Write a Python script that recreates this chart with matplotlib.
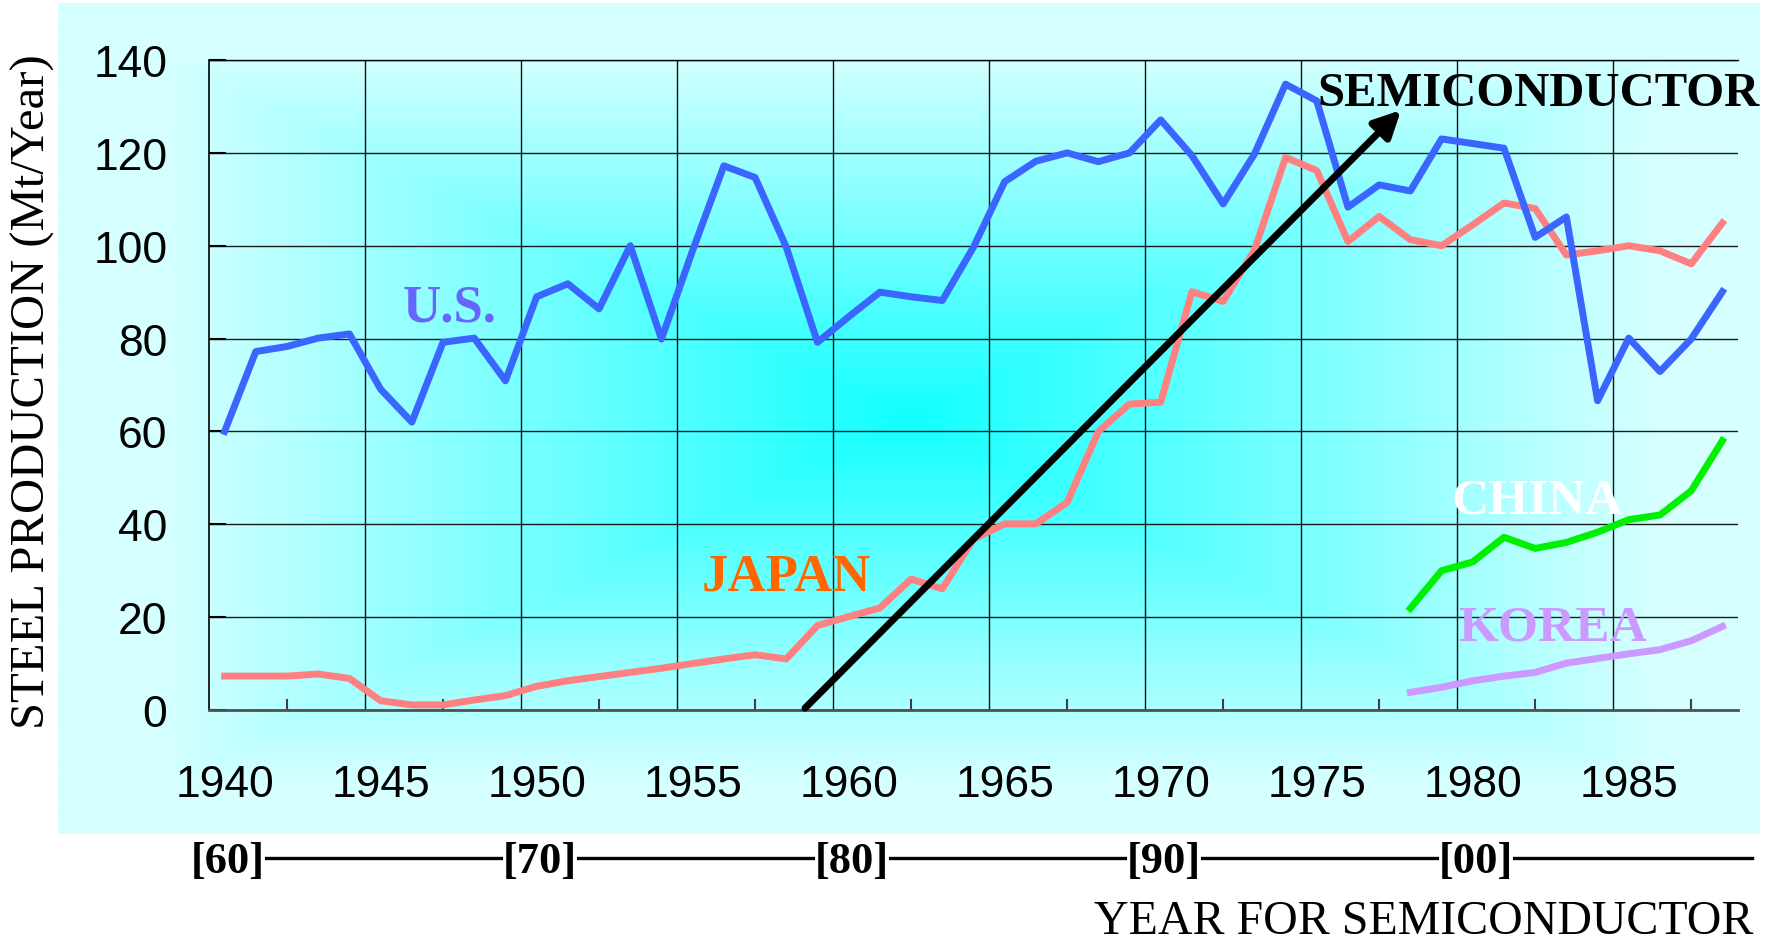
import numpy as np
import matplotlib
matplotlib.use("Agg")
import matplotlib.pyplot as plt
import matplotlib.transforms as mtransforms
from matplotlib.lines import Line2D

# steel production, Mt per year
YEARS = np.arange(1940, 1989)
US = [60, 77.2, 78.3, 80.1, 81.0, 69.1, 62.0, 79.2, 80.1, 70.9,
      89.0, 91.8, 86.4, 100.0, 79.9, 99.0, 117.2, 114.7, 99.7, 79.2,
      84.7, 90.0, 89.0, 88.2, 99.7, 113.8, 118.2, 120.0, 118.1, 120.0,
      127.1, 119.4, 109.0, 119.7, 134.8, 131.2, 108.3, 113.1, 111.8, 123.0,
      122.0, 121.0, 101.8, 106.2, 66.6, 80.1, 72.9, 79.9, 90.1]
JAPAN = [7.3, 7.3, 7.3, 7.75, 6.8, 2.0, 1.1, 1.1, 2.15, 3.1,
         5.1, 6.3, 7.2, 8.1, 9.0, 10.0, 11.0, 11.9, 11.0, 18.2,
         20.1, 22.0, 28.2, 26.1, 36.8, 40.1, 40.1, 44.7, 60.0, 65.9,
         66.3, 90.1, 88.0, 99.0, 119.0, 116.2, 100.9, 106.3, 101.3, 100.0,
         104.5, 109.2, 108.0, 98.0, 98.9, 100.0, 98.9, 96.1, 104.9]
ASIA_YEARS = np.arange(1978, 1989)
CHINA = [21.9, 30.0, 31.9, 37.2, 34.8, 36.1, 38.3, 41.0, 42.0, 47.2, 58.0]
KOREA = [3.8, 4.9, 6.3, 7.3, 8.1, 10.1, 11.1, 12.1, 13.0, 14.9, 18.0]

YEAR_LABELS = [1940, 1945, 1950, 1955, 1960, 1965, 1970, 1975, 1980, 1985]
Y_TICKS = [0, 20, 40, 60, 80, 100, 120, 140]
# semiconductor decades written under the steel years 1940, 1950, ...
SEMI_DECADES = ["60", "70", "80", "90", "00"]
SEMI_STEEL_YEARS = [1940, 1950, 1960, 1970, 1980]

# semiconductor trend arrow (axis units)
ARROW_START = (1959.1, 0.4)
ARROW_END = (1978.2, 129.2)

W, H = 1772, 945
fig = plt.figure(figsize=(W / 100, H / 100), dpi=100)
fig.patch.set_facecolor("white")

# cyan panel with a rectangular gradient, bright in the middle
bg = fig.add_axes([58 / W, 1 - 835 / H, (1760 - 58) / W, (835 - 4) / H])
yy, xx = np.mgrid[-1:1:420j, -1:1:850j]
t = np.maximum(np.abs(xx), np.abs(yy))
red = (18 + (214 - 18) * np.clip(t / 0.88, 0, 1)) / 255
bg.imshow(np.dstack([red, np.ones_like(red), np.ones_like(red)]),
          aspect="auto", extent=[0, 1, 0, 1], interpolation="bilinear")
bg.axis("off")

ax = fig.add_axes([209 / W, 1 - 711 / H, (1738 - 209) / W, (711 - 61) / H])
ax.set_facecolor("none")
ax.set_xlim(1940, 1989)
ax.set_ylim(0, 140)

# grid: horizontal at the y ticks, vertical between every 5 years
ax.set_yticks(Y_TICKS)
ax.yaxis.grid(True, color="#1a1a1a", lw=1.0)
for gx in YEAR_LABELS[1:]:
    ax.axvline(gx, color="#111111", lw=1.0, zorder=1)

ax.spines["right"].set_visible(False)
ax.spines["top"].set_linewidth(1.0)
ax.spines["left"].set_linewidth(1.2)
ax.spines["bottom"].set_color("#505050")
ax.spines["bottom"].set_linewidth(2.0)

ax.set_xticks([y + 0.5 for y in YEAR_LABELS])
ax.set_xticklabels([str(y) for y in YEAR_LABELS])
ax.set_xticks([y + 2.5 for y in YEAR_LABELS], minor=True)
ax.tick_params(axis="x", which="major", length=0, pad=39, labelsize=32)
ax.tick_params(axis="x", which="minor", direction="in", length=8, width=1.5, color="#404040")
ax.tick_params(axis="y", direction="in", length=12, width=1.5, pad=30, labelsize=32)
for lab in ax.get_xticklabels() + ax.get_yticklabels():
    lab.set_fontfamily("Liberation Sans")

lw = 5
ax.plot(YEARS + 0.5, JAPAN, color="#FF8080", lw=lw, zorder=3)
ax.plot(YEARS + 0.5, US, color="#3A66FF", lw=lw, zorder=4)
ax.plot(ASIA_YEARS + 0.5, CHINA, color="#00F000", lw=lw, zorder=3)
ax.plot(ASIA_YEARS + 0.5, KOREA, color="#CC99FF", lw=lw, zorder=3)

ax.annotate("", xy=ARROW_END, xytext=ARROW_START, annotation_clip=False,
            arrowprops=dict(arrowstyle="-|>", color="black", lw=5,
                            mutation_scale=40, shrinkA=0, shrinkB=0),
            zorder=6)

serif = "Liberation Serif"
ax.text(1947.7, 84.0, "U.S.", color="#6666FF", size=38, weight="bold",
        family=serif, ha="center", va="baseline", zorder=5)
ax.text(1958.5, 25.9, "JAPAN", color="#FF6600", size=38, weight="bold",
        family=serif, ha="center", va="baseline", zorder=5)
ax.text(1982.6, 130.3, "SEMICONDUCTOR", color="black", size=35, weight="bold",
        family=serif, ha="center", va="baseline", zorder=7, clip_on=False)
ax.text(1982.55, 42.6, "CHINA", color="white", size=37, weight="bold",
        family=serif, ha="center", va="baseline", zorder=5)
ax.text(1983.05, 15.1, "KOREA", color="#CC99FF", size=37, weight="bold",
        family=serif, ha="center", va="baseline", zorder=5)

fig.text(32.5 / W, 1 - 392 / H, "STEEL PRODUCTION (Mt/Year)", rotation=90,
         ha="center", va="center", size=35, family=serif)

# semiconductor year scale under the panel
trans = mtransforms.blended_transform_factory(ax.transData, fig.transFigure)
line_y = 1 - 859 / H
fig.add_artist(Line2D([SEMI_STEEL_YEARS[0] + 0.6, 1989.45], [line_y, line_y],
                      transform=trans, color="black", lw=2.4, zorder=1))
for yr, dec in zip(SEMI_STEEL_YEARS, SEMI_DECADES):
    fig.text(yr + 0.6, 1 - 862 / H, "[" + dec + "]", transform=trans,
             ha="center", va="center", size=32, weight="bold",
             family=serif, zorder=3,
             bbox=dict(facecolor="white", edgecolor="none", pad=0))
fig.text(1753 / W, 1 / H, "YEAR FOR SEMICONDUCTOR", ha="right", va="bottom",
         size=34.5, family=serif)

fig.savefig("out.png", dpi=100)
